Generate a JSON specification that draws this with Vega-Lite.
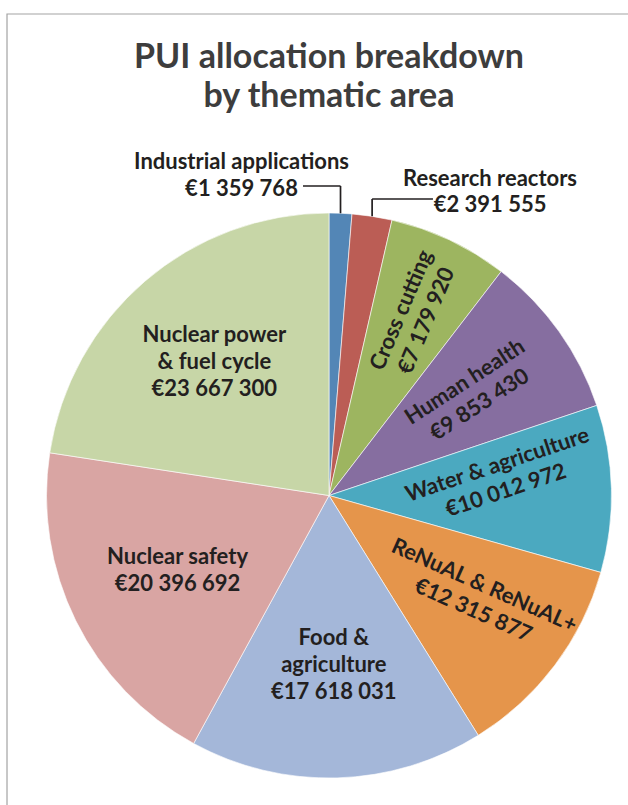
{
  "$schema": "https://vega.github.io/schema/vega-lite/v6.json",
  "width": 565,
  "height": 565,
  "autosize": {"type": "none"},
  "padding": {"left": 46.5, "top": 213, "right": 16.5, "bottom": 27},
  "background": "white",
  "config": {"view": {"stroke": null}},
  "title": {
    "text": ["PUI allocation breakdown", "by thematic area"],
    "font": "Lato",
    "fontWeight": "bold",
    "fontSize": 34,
    "lineHeight": 39,
    "color": "#3d3d3d",
    "anchor": "middle",
    "frame": "group",
    "offset": -101
  },
  "data": {
    "values": [
      {"area": "Industrial applications", "label": "Industrial applications", "value": 1359768},
      {"area": "Research reactors", "label": "Research reactors", "value": 2391555},
      {"area": "Cross cutting", "label": "Cross cutting", "value": 7179920},
      {"area": "Human health", "label": "Human health", "value": 9853430},
      {"area": "Water & agriculture", "label": "Water & agriculture", "value": 10012972},
      {"area": "ReNuAL & ReNuAL+", "label": "ReNuAL & ReNuAL+", "value": 12315877},
      {"area": "Food & agriculture", "label": "Food &\nagriculture", "value": 17618031},
      {"area": "Nuclear safety", "label": "Nuclear safety", "value": 20396692},
      {"area": "Nuclear power & fuel cycle", "label": "Nuclear power\n& fuel cycle", "value": 23667300}
    ]
  },
  "transform": [
    {"window": [{"op": "sum", "field": "value", "as": "end"}], "frame": [null, 0]},
    {"joinaggregate": [{"op": "sum", "field": "value", "as": "total"}]},
    {"calculate": "datum.end - datum.value", "as": "start"},
    {"calculate": "datum.end - datum.value / 2", "as": "mid"},
    {"calculate": "datum.label + '\\n€' + replace(format(datum.value, ','), regexp(',', 'g'), ' ')", "as": "txt"},
    {"calculate": "sin(2 * PI * datum.mid / datum.total)", "as": "px"},
    {"calculate": "cos(2 * PI * datum.mid / datum.total)", "as": "py"}
  ],
  "layer": [
    {
      "data": {"values": [{}]},
      "transform": [],
      "mark": {"type": "rect", "fill": null, "fillOpacity": 0, "stroke": "#a3a3a3", "strokeWidth": 1.2},
      "encoding": {
        "x": {"datum": -1.1398, "type": "quantitative", "scale": {"domain": [-1, 1], "nice": false, "zero": false}, "axis": null},
        "x2": {"datum": 1.25},
        "y": {"datum": 1.7044, "type": "quantitative", "scale": {"domain": [-1, 1], "nice": false, "zero": false}, "axis": null},
        "y2": {"datum": -1.3}
      }
    },
    {
      "mark": {"type": "arc", "stroke": "white", "strokeWidth": 0.6},
      "encoding": {
        "theta": {"field": "start", "type": "quantitative", "stack": null, "scale": {"domain": [0, 104795545], "nice": false, "zero": true}},
        "theta2": {"field": "end"},
        "color": {
          "field": "area",
          "type": "nominal",
          "legend": null,
          "scale": {
            "domain": ["Industrial applications", "Research reactors", "Cross cutting", "Human health", "Water & agriculture", "ReNuAL & ReNuAL+", "Food & agriculture", "Nuclear safety", "Nuclear power & fuel cycle"],
            "range": ["#5386b6", "#bb5d55", "#9db560", "#866ea0", "#4ba9c0", "#e5954b", "#a4b7d9", "#d9a5a3", "#c7d6a7"]
          }
        }
      }
    },
    {
      "transform": [{"filter": "datum.area === 'Industrial applications' || datum.area === 'Research reactors'"},
        {"calculate": "datum.area === 'Industrial applications' ? 1.0956 : 1.0496", "as": "ey"},
        {"calculate": "datum.area === 'Industrial applications' ? -0.092 : 0.368", "as": "ex"}],
      "layer": [
        {
          "mark": {"type": "rule", "color": "#231f20", "strokeWidth": 1.7},
          "encoding": {
            "x": {"field": "px", "type": "quantitative"},
            "y": {"field": "py", "type": "quantitative"},
            "y2": {"field": "ey"}
          }
        },
        {
          "mark": {"type": "rule", "color": "#231f20", "strokeWidth": 1.7},
          "encoding": {
            "x": {"field": "px", "type": "quantitative"},
            "x2": {"field": "ex"},
            "y": {"field": "ey", "type": "quantitative"}
          }
        }
      ]
    },
    {
      "transform": [{"filter": "datum.area === 'Industrial applications'"}],
      "mark": {"type": "text", "dy": -13.5, "font": "Lato", "fontWeight": "bold", "fontSize": 22, "lineHeight": 27, "lineBreak": "\n", "align": "center", "baseline": "middle", "fill": "#231f20"},
      "encoding": {
        "x": {"datum": -0.3097, "type": "quantitative"},
        "y": {"datum": 1.131, "type": "quantitative"},
        "text": {"field": "txt"}
      }
    },
    {
      "transform": [{"filter": "datum.area === 'Research reactors'"}],
      "mark": {"type": "text", "dy": -13, "font": "Lato", "fontWeight": "bold", "fontSize": 22, "lineHeight": 26, "lineBreak": "\n", "align": "center", "baseline": "middle", "fill": "#231f20"},
      "encoding": {
        "x": {"datum": 0.57, "type": "quantitative"},
        "y": {"datum": 1.0726, "type": "quantitative"},
        "text": {"field": "txt"}
      }
    },
    {
      "transform": [{"filter": "datum.area === 'Cross cutting'"}],
      "mark": {"type": "text", "radius": 199, "angle": -67, "dy": -13.5, "font": "Lato", "fontWeight": "bold", "fontSize": 22, "lineHeight": 27, "lineBreak": "\n", "align": "center", "baseline": "middle", "fill": "#231f20"},
      "encoding": {"theta": {"field": "mid", "type": "quantitative", "stack": null}, "text": {"field": "txt"}}
    },
    {
      "transform": [{"filter": "datum.area === 'Human health'"}],
      "mark": {"type": "text", "radius": 176, "angle": -33, "dy": -13.5, "font": "Lato", "fontWeight": "bold", "fontSize": 22, "lineHeight": 27, "lineBreak": "\n", "align": "center", "baseline": "middle", "fill": "#231f20"},
      "encoding": {"theta": {"field": "mid", "type": "quantitative", "stack": null}, "text": {"field": "txt"}}
    },
    {
      "transform": [{"filter": "datum.area === 'Water & agriculture'"}],
      "mark": {"type": "text", "radius": 173, "angle": -18.5, "dx": 4, "dy": -26.5, "font": "Lato", "fontWeight": "bold", "fontSize": 22, "lineHeight": 27, "lineBreak": "\n", "align": "center", "baseline": "middle", "fill": "#231f20"},
      "encoding": {"theta": {"field": "mid", "type": "quantitative", "stack": null}, "text": {"field": "txt"}}
    },
    {
      "transform": [{"filter": "datum.area === 'ReNuAL & ReNuAL+'"}],
      "mark": {"type": "text", "radius": 181, "angle": 24, "dx": 2, "dy": -21.5, "font": "Lato", "fontWeight": "bold", "fontSize": 22, "lineHeight": 27, "lineBreak": "\n", "align": "center", "baseline": "middle", "fill": "#231f20"},
      "encoding": {"theta": {"field": "mid", "type": "quantitative", "stack": null}, "text": {"field": "txt"}}
    },
    {
      "transform": [{"filter": "datum.area === 'Food & agriculture'"}],
      "mark": {"type": "text", "radius": 170, "dy": -27, "font": "Lato", "fontWeight": "bold", "fontSize": 22, "lineHeight": 27, "lineBreak": "\n", "align": "center", "baseline": "middle", "fill": "#231f20"},
      "encoding": {"theta": {"field": "mid", "type": "quantitative", "stack": null}, "text": {"field": "txt"}}
    },
    {
      "transform": [{"filter": "datum.area === 'Nuclear safety'"}],
      "mark": {"type": "text", "radius": 169, "dy": -13.5, "font": "Lato", "fontWeight": "bold", "fontSize": 22, "lineHeight": 27, "lineBreak": "\n", "align": "center", "baseline": "middle", "fill": "#231f20"},
      "encoding": {"theta": {"field": "mid", "type": "quantitative", "stack": null}, "text": {"field": "txt"}}
    },
    {
      "transform": [{"filter": "datum.area === 'Nuclear power & fuel cycle'"}],
      "mark": {"type": "text", "radius": 176, "dy": -27, "font": "Lato", "fontWeight": "bold", "fontSize": 22, "lineHeight": 27, "lineBreak": "\n", "align": "center", "baseline": "middle", "fill": "#231f20"},
      "encoding": {"theta": {"field": "mid", "type": "quantitative", "stack": null}, "text": {"field": "txt"}}
    }
  ]
}
